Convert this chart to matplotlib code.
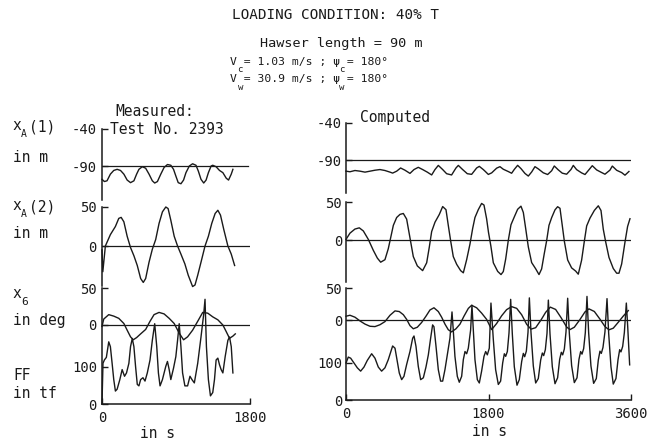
import matplotlib
matplotlib.use("Agg")
import matplotlib.pyplot as plt

# ---------------- data (time in s) ----------------
# Measured (Test No. 2393), 0..1800 s
meas_xa1_t = [0, 29, 61, 102, 143, 184, 225, 266, 306, 347, 388, 421, 449, 490, 531, 572, 612, 641, 674, 715,
              755, 796, 837, 870, 898, 927, 960, 992, 1021, 1062, 1102, 1143, 1172, 1204, 1237, 1266, 1294, 1327,
              1347, 1388, 1429, 1470, 1511, 1539, 1572, 1592]
meas_xa1_v = [-108, -111, -110, -101, -96, -94.5, -96, -101, -109, -112.5, -110, -101, -94.5, -91, -93, -101, -110,
              -113, -111, -101, -92, -88, -89, -94.5, -103.5, -112.5, -114, -109, -99, -90, -87, -89, -97, -108,
              -113, -109, -99, -90, -89, -91, -96, -99, -106.5, -109, -101, -94.5]

meas_xa2_t = [0, 10, 41, 102, 163, 204, 233, 266, 306, 347, 388, 429, 470, 502, 531, 572, 612, 653, 694, 735, 776,
              804, 837, 878, 919, 960, 1008, 1049, 1102, 1131, 1164, 1204, 1253, 1294, 1335, 1376, 1409, 1441,
              1482, 1531, 1572, 1613]
meas_xa2_v = [-5, -33, 0, 14.6, 25, 35.4, 36.7, 31, 12.5, -2, -12.5, -25, -41.7, -46.7, -41.7, -20.8, -4.2, 8.3,
              29, 43.8, 50, 48, 33, 12.5, 0, -10.4, -23, -37.5, -52, -50, -37.5, -20.8, 0, 12.5, 29, 41.7, 45.8,
              39.6, 20.8, 0, -10.4, -25]

meas_x6_t = [0, 21, 82, 143, 204, 266, 306, 347, 380, 421, 470, 531, 584, 633, 694, 755, 817, 878, 939, 992,
             1041, 1102, 1164, 1225, 1286, 1347, 1409, 1470, 1511, 1551, 1592, 1621]
meas_x6_v = [-2, 8, 14, 12, 9, 2, -7, -16, -20, -17, -12, -6, 5, 14, 17, 15, 9, 2, -11, -20,
             -16, -7, 5, 17, 16, 11, 7, 0, -9, -18, -15, -12]

meas_ff_t = [0, 12, 29, 53, 82, 102, 123, 143, 163, 184, 217, 245, 274, 298, 327, 347, 368, 388, 408, 429,
             449, 470, 498, 523, 551, 584, 612, 641, 666, 686, 706, 735, 776, 796, 817, 837, 870, 898, 919, 939,
             960, 980, 1008, 1041, 1070, 1094, 1123, 1164, 1204, 1237, 1253, 1270, 1294, 1319, 1347, 1368, 1388,
             1409, 1429, 1449, 1470, 1498, 1531, 1551, 1572, 1592]
meas_ff_v = [0, 110, 119, 126, 168, 155, 110, 66, 35, 40, 66, 93, 75, 84, 110, 155, 177, 155, 102, 53,
             49, 66, 71, 62, 84, 119, 172, 217, 155, 84, 49, 66, 102, 115, 93, 66, 97, 128, 172, 217,
             155, 84, 49, 49, 75, 66, 57, 110, 181, 243, 283, 155, 66, 22, 31, 66, 119,
             124, 106, 93, 84, 128, 172, 181, 155, 84]

# Computed, 0..3600 s
comp_xa1_t = [0, 50, 113, 177, 240, 303, 366, 429, 492, 556, 589, 640, 690, 745, 808, 859, 913, 968, 1027, 1082,
              1124, 1166, 1221, 1271, 1334, 1389, 1419, 1473, 1532, 1587, 1650, 1684, 1734, 1756, 1798, 1840,
              1903, 1945, 1987, 2050, 2092, 2126, 2168, 2210, 2261, 2303, 2345, 2387, 2429, 2492, 2547, 2598,
              2631, 2682, 2732, 2787, 2842, 2871, 2913, 2976, 3019, 3069, 3111, 3166, 3221, 3271, 3334, 3364,
              3419, 3482, 3524, 3574]
comp_xa1_v = [-105.1, -105.9, -104.2, -105.1, -106.4, -105.1, -103.8, -102.9, -104.2, -106.4, -107.7, -105.1,
              -100.8, -103.8, -108.1, -102.9, -99.9, -102.9, -106.4, -110.2, -102.9, -97.3, -102.9, -108.5,
              -110.2, -100.8, -97.3, -102.9, -108.5, -109.4, -100.8, -98.6, -102.9, -105.1, -109.5, -107.4,
              -101, -99, -102.5, -105.6, -107.9, -102.7, -97.2, -101.6, -108.2, -111.7, -106.2, -99, -102,
              -107.3, -109.6, -104.5, -98.1, -103.4, -107.8, -109.2, -102.8, -97.3, -103, -107.4, -109.6,
              -103.2, -97.7, -103.4, -106.5, -109.2, -103.7, -98.2, -103.9, -107, -110.5, -105.5]

comp_xa2_t = [0, 50, 113, 168, 219, 282, 345, 396, 438, 492, 534, 564, 598, 640, 682, 724, 766, 808, 850, 901,
              968, 1019, 1052, 1082, 1124, 1179, 1221, 1263, 1292, 1322, 1355, 1398, 1448, 1482, 1524, 1566,
              1600, 1629, 1671, 1713, 1743, 1776, 1800, 1830, 1861, 1916, 1958, 1987, 2017, 2050, 2084, 2126,
              2168, 2210, 2240, 2269, 2303, 2345, 2396, 2438, 2471, 2505, 2534, 2564, 2598, 2640, 2673, 2703,
              2732, 2758, 2800, 2850, 2901, 2934, 2976, 3010, 3040, 3082, 3137, 3187, 3221, 3250, 3280, 3322,
              3376, 3419, 3448, 3482, 3524, 3557, 3587]
comp_xa2_v = [0.8, 9, 14.4, 16, 11.9, 0.8, -13.6, -23.8, -29.2, -25.9, -11.5, 2.9, 19.3, 29.6, 33.7, 34.9, 27.5,
              2.9, -21.8, -34.1, -40.3, -30, -9.5, 11.1, 23.4, 33.7, 44, 39.9, 19.3, -1.2, -21.8, -32, -40.3,
              -43.2, -25.9, -5.3, 15.2, 29.6, 39.9, 48.1, 46, 28, 10, -8, -30, -41.3, -45.5, -41.5, -25.1,
              -0.5, 20.1, 30.4, 40.4, 44.5, 36.2, 15.6, -9.1, -29.7, -37.9, -45.5, -38.1, -17.6, -1.2, 19.3,
              29.5, 39.7, 43.8, 41.7, 19, -1.6, -26.3, -36.7, -40.9, -45, -26.6, -2, 18.5, 28.8, 38.9, 45,
              38.8, 14.1, -2.4, -23, -37.5, -43.7, -43.7, -31.5, -2.8, 17.8, 28]

comp_x6_t = [0, 50, 113, 177, 240, 303, 366, 429, 492, 556, 619, 673, 724, 766, 808, 850, 901, 955, 1010, 1061,
             1111, 1166, 1208, 1250, 1292, 1334, 1389, 1440, 1490, 1545, 1587, 1650, 1713, 1776, 1840, 1903,
             1966, 2029, 2092, 2156, 2219, 2282, 2337, 2396, 2463, 2522, 2581, 2648, 2715, 2787, 2829, 2884,
             2955, 3019, 3069, 3137, 3208, 3271, 3322, 3376, 3440, 3503, 3566]
comp_x6_v = [5.9, 7.4, 4.4, -1.5, -6.4, -9.8, -10.3, -7.4, -2.5, 7.4, 14.2, 13.2, 8.3, 1, -8.8, -13.7, -11.3,
             -3.9, 5.9, 15.7, 19.1, 13.2, 4.4, -6.4, -15.2, -18.6, -13.7, -6.4, 5.9, 18.1, 23, 19.1, 10.8, 1,
             -15, -5.4, 6.6, 16.2, 20.9, 18.2, 8.2, -6.7, -14.3, -12, 0, 12, 20.1, 16.5, 4, -10.9, -15, -11.3,
             0.7, 12.7, 17.4, 13.3, 1.3, -10.2, -15.3, -12.8, -3.4, 6.2, 14.7]

comp_ff_t = [0, 29, 59, 101, 143, 185, 227, 269, 324, 366, 408, 450, 492, 534, 589, 619, 648, 673, 703, 732,
             766, 808, 842, 859, 884, 913, 943, 977, 1010, 1040, 1069, 1094, 1111, 1137, 1166, 1195, 1221, 1250,
             1280, 1313, 1339, 1355, 1376, 1406, 1431, 1461, 1482, 1503, 1524, 1545, 1574, 1591, 1608, 1629,
             1659, 1684, 1713, 1743, 1764, 1785, 1810,
             1831, 1861, 1890, 1924, 1953, 1979, 2000, 2017, 2038, 2059,
             2080, 2101, 2126, 2160, 2189, 2219, 2240, 2257, 2278, 2299,
             2316, 2337, 2366, 2396, 2429, 2459, 2480, 2497, 2518, 2539,
             2556, 2577, 2606, 2640, 2673, 2699, 2720, 2737, 2758, 2779,
             2800, 2821, 2850, 2884, 2918, 2943, 2964, 2981, 3002, 3023,
             3044, 3065, 3094, 3128, 3162, 3187, 3208, 3225, 3246, 3271,
             3297, 3318, 3347, 3376, 3410, 3436, 3457, 3473, 3495, 3516,
             3541, 3558, 3583]
comp_ff_v = [100, 116, 113, 100, 87, 78, 89, 107, 125, 113, 89, 78, 87, 109, 146, 140, 104, 73, 55, 64,
             96, 131, 167, 173, 145, 91, 55, 60, 89, 122, 167, 203, 198, 145, 82, 51, 51, 82,
             122, 167, 238, 189, 118, 64, 48, 64, 109, 131, 125, 140, 189, 256, 189, 109,
             55, 46, 78, 118, 131, 122, 140,
             262, 163, 82, 42, 51, 100, 125, 118, 131, 181,
             272, 178, 90, 40, 55, 104, 126, 117, 132, 183,
             276, 182, 92, 46, 58, 108, 127, 120, 136, 180,
             270, 178, 90, 44, 60, 110, 129, 122, 138, 184,
             275, 180, 93, 47, 60, 110, 131, 124, 139, 182,
             280, 182, 92, 45, 58, 108, 132, 126, 142, 184,
             274, 180, 90, 43, 58, 109, 136, 130, 145, 182,
             262, 200, 95]

# tick labels
xa1_ticks = [-40, -90]
xa2_ticks = [50, 0]
x6_ticks = [50, 0]
ff_ticks = [100, 0]

# ---------------- figure ----------------
W, H = 651, 441
plt.rcParams['font.family'] = ['DejaVu Sans Mono', 'DejaVu Sans']
INK = '#1a1a1a'
LW = 1.0
fig = plt.figure(figsize=(W / 100, H / 100), dpi=100)


def px_axes(x0, x1, ytop, ybot, xmax, ref_hi, ref_lo):
    (v1, p1), (v2, p2) = ref_hi, ref_lo
    s = (p2 - p1) / (v1 - v2)
    ymax = v1 + (p1 - ytop) / s
    ymin = v2 - (ybot - p2) / s
    ax = fig.add_axes([x0 / W, 1 - ybot / H, (x1 - x0) / W, (ybot - ytop) / H])
    ax.set_xlim(0, xmax)
    ax.set_ylim(ymin, ymax)
    ax.patch.set_alpha(0)
    for sp in ax.spines.values():
        sp.set_visible(False)
        sp.set_color(INK)
        sp.set_linewidth(1.1)
    ax.set_xticks([])
    return ax


def yticks(ax, ticks, pad, spine=True):
    ax.set_yticks(ticks)
    ax.set_yticklabels([str(t) for t in ticks])
    ax.tick_params(axis='y', direction='in', length=4, width=1.0, color=INK,
                   pad=pad, labelsize=10, labelcolor=INK)
    ax.spines['left'].set_visible(spine)


def T(x, y, s, size=10.5, ha='left', va='center'):
    fig.text(x / W, 1 - y / H, s, fontsize=size, ha=ha, va=va, color=INK)


def draw(ax, t, v):
    ax.plot(t, v, color=INK, lw=LW, clip_on=False, solid_joinstyle='round')


# ---- left column (measured) ----
LX0, LX1 = 102, 250
a = px_axes(LX0, LX1, 129, 200, 1800, (-40, 129), (-90, 166))
yticks(a, xa1_ticks, 3.6)
a.axhline(-90, color=INK, lw=0.9, xmax=0.985)
draw(a, meas_xa1_t, meas_xa1_v)

a = px_axes(LX0, LX1, 207, 286, 1800, (50, 207), (0, 246))
yticks(a, xa2_ticks, 3.6)
a.axhline(0, color=INK, lw=0.9)
draw(a, meas_xa2_t, meas_xa2_v)

a = px_axes(LX0, LX1, 288, 404, 1800, (50, 288), (0, 325))
yticks(a, x6_ticks, 3.6, spine=False)
a.axhline(0, color=INK, lw=0.9)
draw(a, meas_x6_t, meas_x6_v)

a = px_axes(LX0, LX1, 288, 404, 1800, (100, 367), (0, 404))
yticks(a, ff_ticks, 3.6)
a.spines['bottom'].set_visible(True)
a.set_xticks([0, 1800])
a.set_xticklabels(['0', '1800'])
a.tick_params(axis='x', direction='in', length=4, width=1.0, color=INK, pad=5,
              labelsize=10, labelcolor=INK)
draw(a, meas_ff_t, meas_ff_v)

# ---- right column (computed) ----
RX0, RX1 = 346, 631
b = px_axes(RX0, RX1, 123, 193, 3600, (-40, 123), (-90, 160))
yticks(b, xa1_ticks, 2.8)
b.axhline(-90, color=INK, lw=0.9)
draw(b, comp_xa1_t, comp_xa1_v)

b = px_axes(RX0, RX1, 202, 282, 3600, (50, 202), (0, 240))
yticks(b, xa2_ticks, 2.8)
b.axhline(0, color=INK, lw=0.9)
draw(b, comp_xa2_t, comp_xa2_v)

b = px_axes(RX0, RX1, 288, 400, 3600, (50, 288), (0, 320))
yticks(b, x6_ticks, 2.8, spine=False)
b.axhline(0, color=INK, lw=0.9)
draw(b, comp_x6_t, comp_x6_v)

b = px_axes(RX0, RX1, 288, 400, 3600, (100, 363), (0, 400))
yticks(b, ff_ticks, 2.8)
b.spines['bottom'].set_visible(True)
b.set_xticks([0, 1800, 3600])
b.set_xticklabels(['0', '1800', '3600'])
b.tick_params(axis='x', direction='in', length=4, width=1.0, color=INK, pad=5,
              labelsize=10, labelcolor=INK)
draw(b, comp_ff_t, comp_ff_v)

# ---- texts ----
T(336, 15, 'LOADING CONDITION: 40% T', size=10.3, ha='center')
T(341, 43, 'Hawser length = 90 m', size=9.7, ha='center')
T(230, 62, 'V = 1.03 m/s ; \u03c8 = 180\u00b0', size=8.2)
T(237.5, 70, 'c', size=6.5)
T(339, 70, 'c', size=6.5)
T(230, 79, 'V = 30.9 m/s ; \u03c8 = 180\u00b0', size=8.2)
T(237.5, 87, 'w', size=6.5)
T(339, 87, 'w', size=6.5)

T(115, 112, 'Measured:')
T(110, 129, 'Test No. 2393')
T(360, 117, 'Computed')

T(12, 125, 'x')
T(21, 134, 'A', size=7)
T(29, 127, '(1)')
T(13, 157, 'in m')
T(12, 205, 'x')
T(21, 214, 'A', size=7)
T(29, 207, '(2)')
T(13, 233, 'in m')
T(12, 294, 'x')
T(21, 302, '6', size=8)
T(13, 320, 'in deg')
T(13, 375, 'FF')
T(13, 393, 'in tf')

T(157, 433, 'in s', ha='center')
T(490, 432, 'in s', ha='center')

fig.savefig('out.png', dpi=100)
